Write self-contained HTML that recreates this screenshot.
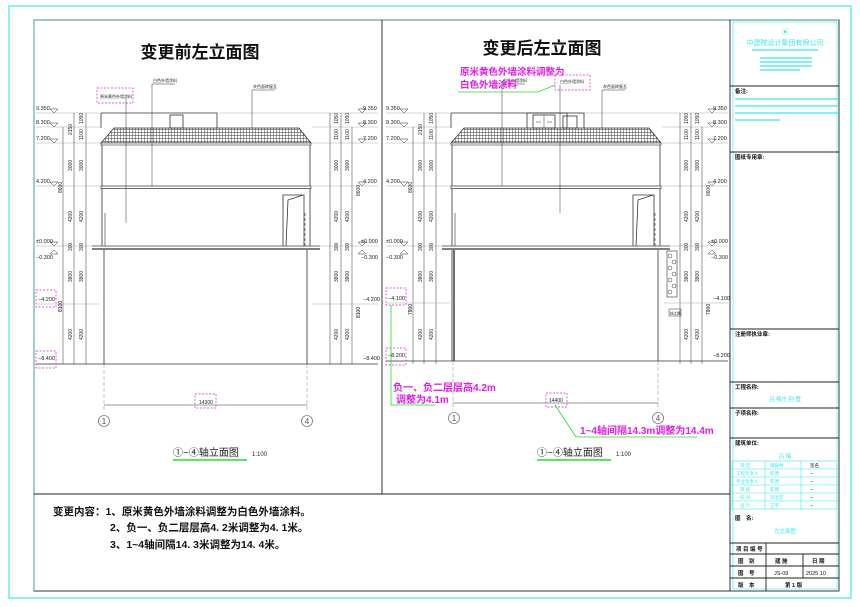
<!DOCTYPE html>
<html><head><meta charset="utf-8"><style>
html,body{margin:0;padding:0;background:#fff}
svg{display:block}
text{font-family:"Liberation Sans","Noto Sans CJK SC",sans-serif}
</style></head><body>
<svg width="860" height="607" viewBox="0 0 860 607" xmlns="http://www.w3.org/2000/svg">
<defs>
<pattern id="tile" width="3" height="3" patternUnits="userSpaceOnUse">
<rect width="3" height="3" fill="#fff"/><path d="M0 0H3M0 0V3" stroke="#333" stroke-width="0.9"/>
</pattern>
<g id="upper">
 <path d="M101 113H217V128" fill="none" stroke="#333" stroke-width="0.8"/>
 <path d="M101 113V128" stroke="#333" stroke-width="0.8"/>
 <path d="M101 143L114 128H299L311 143Z" fill="url(#tile)" stroke="#333" stroke-width="0.8"/>
 <rect x="101" y="143" width="210" height="2" fill="#fff" stroke="#333" stroke-width="0.6"/>
 <path d="M102 145V186M310 145V186" stroke="#333" stroke-width="0.8"/>
 <rect x="101" y="186" width="210" height="2.5" fill="#fff" stroke="#333" stroke-width="0.7"/>
 <path d="M102 189V246M310 189V246" stroke="#333" stroke-width="0.8"/>
 <path d="M283 246V195H304V246M286 246L288 200L303 195" fill="none" stroke="#333" stroke-width="0.8"/>
 <path d="M305 213V246" stroke="#333" stroke-width="0.6" stroke-dasharray="3 2"/>
 <path d="M105 213V246" stroke="#333" stroke-width="0.6"/>
 <path d="M92 246H320" stroke="#333" stroke-width="1"/>
 <path d="M92 249H320" stroke="#333" stroke-width="1.2"/>
 <g stroke="#aaa" stroke-width="0.5">
 <path d="M36 113H100M220 113H378M36 127H100M312 127H378M36 143H100M312 143H378M36 186H100M312 186H378M36 246H378"/>
 </g>
 <g stroke="#555" stroke-width="0.6">
 <path d="M63 127V364M74 113V364M86 113V364M330 113V364M341 113V364M352 127V364"/>
 </g>
 <g font-size="5" fill="#222">
 <text transform="translate(72,135) rotate(-90)">2150</text>
 <text transform="translate(83,124) rotate(-90)">1050</text>
 <text transform="translate(83,140) rotate(-90)">1100</text>
 <text transform="translate(72,171) rotate(-90)">3000</text>
 <text transform="translate(83,171) rotate(-90)">3000</text>
 <text transform="translate(62,193) rotate(-90)">8600</text>
 <text transform="translate(72,222) rotate(-90)">4200</text>
 <text transform="translate(83,222) rotate(-90)">4200</text>
 <text transform="translate(72,251) rotate(-90)">300</text>
 <text transform="translate(83,251) rotate(-90)">300</text>
 <text transform="translate(72,282) rotate(-90)">3800</text>
 <text transform="translate(83,282) rotate(-90)">3800</text>
 <text transform="translate(72,340) rotate(-90)">4200</text>
 <text transform="translate(83,340) rotate(-90)">4200</text>
 <text transform="translate(338,124) rotate(-90)">1050</text>
 <text transform="translate(349,124) rotate(-90)">1050</text>
 <text transform="translate(338,140) rotate(-90)">1100</text>
 <text transform="translate(349,140) rotate(-90)">1100</text>
 <text transform="translate(338,171) rotate(-90)">3000</text>
 <text transform="translate(349,171) rotate(-90)">3000</text>
 <text transform="translate(360,196) rotate(-90)">8600</text>
 <text transform="translate(338,222) rotate(-90)">4200</text>
 <text transform="translate(349,222) rotate(-90)">4200</text>
 <text transform="translate(338,251) rotate(-90)">300</text>
 <text transform="translate(349,251) rotate(-90)">300</text>
 <text transform="translate(338,282) rotate(-90)">3800</text>
 <text transform="translate(349,282) rotate(-90)">3800</text>
 <text transform="translate(338,340) rotate(-90)">4200</text>
 <text transform="translate(349,340) rotate(-90)">4200</text>
 </g>
 <g font-size="5.5" fill="#222">
 <text x="36" y="110">9.350</text><text x="36" y="124">8.300</text><text x="36" y="140">7.200</text>
 <text x="36" y="183">4.200</text><text x="36" y="243">±0.000</text><text x="36" y="259">−0.300</text>
 <text x="363" y="110">9.350</text><text x="363" y="124">8.300</text><text x="363" y="140">7.200</text>
 <text x="363" y="183">4.200</text><text x="361" y="243">±0.000</text><text x="361" y="259">−0.300</text>
 </g>
 <g fill="none" stroke="#333" stroke-width="0.5">
 <path d="M50 109L54 113L58 109ZM50 123L54 127L58 123ZM50 139L54 143L58 139ZM50 182L54 186L58 182ZM50 242L54 246L58 242ZM50 254L54 250L58 254Z"/>
 <path d="M358 109L362 113L366 109ZM358 123L362 127L366 123ZM358 139L362 143L366 139ZM358 182L362 186L366 182ZM358 242L362 246L366 242ZM358 254L362 250L366 254Z"/>
 </g>
 <path d="M152 84V186M152 84H175M252 90V128M252 90H275" stroke="#333" stroke-width="0.5" fill="none"/>
 <text x="153" y="82" font-size="4" fill="#222">白色外墙涂料</text>
 <text x="253" y="88" font-size="4" fill="#222">灰色面砖屋瓦</text>
</g>
</defs>
<rect width="860" height="607" fill="#fff"/>
<rect x="9" y="6" width="842" height="592" fill="none" stroke="#3ee8e8" stroke-width="1.2"/>
<rect x="34" y="20" width="805" height="571" fill="none" stroke="#222" stroke-width="0.9"/>
<path d="M34 20H839M34 20V591" stroke="#3ee8e8" stroke-width="0.6"/>
<path d="M382 20V494M730 20V591M34 494H730" stroke="#222" stroke-width="0.9"/>

<text x="200" y="58" font-size="17" font-weight="bold" text-anchor="middle" fill="#111">变更前左立面图</text>
<use href="#upper"/>
<rect x="170" y="115" width="13" height="13" fill="none" stroke="#333" stroke-width="0.8"/>
<rect x="97" y="88" width="36" height="15" fill="none" stroke="#e020e0" stroke-width="0.7" stroke-dasharray="2 1.5"/>
<text x="100" y="98" font-size="4" fill="#222">原米黄色外墙涂料</text>
<path d="M126 98V223" stroke="#333" stroke-width="0.5"/>
<g stroke="#333" stroke-width="0.8" fill="none">
<path d="M104 250V364M307 250V364M36 364H378"/>
<path d="M104 364V412M307 364V412" stroke="#888" stroke-width="0.5" stroke-dasharray="4 2"/>
<path d="M104 405H307" stroke-width="0.6"/>
</g>
<path d="M36 304H100M312 304H378" stroke="#aaa" stroke-width="0.5"/>
<g font-size="5.5" fill="#222"><text x="38" y="301">−4.200</text><text x="38" y="360">−8.400</text><text x="363" y="301">−4.200</text><text x="363" y="360">−8.400</text></g>
<text transform="translate(62,312) rotate(-90)" font-size="5">8100</text>
<text transform="translate(360,318) rotate(-90)" font-size="5">8100</text>
<rect x="36" y="290" width="20" height="17" fill="none" stroke="#e020e0" stroke-width="0.7" stroke-dasharray="2 1.5"/>
<rect x="36" y="351" width="20" height="17" fill="none" stroke="#e020e0" stroke-width="0.7" stroke-dasharray="2 1.5"/>
<rect x="195" y="394" width="21" height="14" fill="none" stroke="#e020e0" stroke-width="0.7" stroke-dasharray="2 1.5"/>
<text x="199" y="404" font-size="5" fill="#222">14300</text>
<circle cx="104" cy="421" r="5.5" fill="none" stroke="#555" stroke-width="0.6"/><text x="104" y="424" font-size="8" text-anchor="middle" fill="#555">1</text>
<circle cx="307" cy="421" r="5.5" fill="none" stroke="#555" stroke-width="0.6"/><text x="307" y="424" font-size="8" text-anchor="middle" fill="#555">4</text>
<text x="173" y="456" font-size="10" fill="#222">①~④轴立面图</text><text x="252" y="456" font-size="6" fill="#222">1:100</text>
<path d="M173 460H247" stroke="#20e020" stroke-width="1.5"/>

<text x="542" y="54" font-size="17" font-weight="bold" text-anchor="middle" fill="#111">变更后左立面图</text>
<use href="#upper" transform="translate(350,0)"/>
<path d="M527 113H584V128M527 113V128" fill="none" stroke="#333" stroke-width="0.8"/>
<rect x="533" y="115" width="22" height="13" fill="none" stroke="#333" stroke-width="0.8"/>
<path d="M544 115V128M536 122H541M547 122H552" stroke="#333" stroke-width="0.5"/>
<rect x="563" y="116" width="14" height="12" fill="none" stroke="#333" stroke-width="0.8"/>
<rect x="555" y="75" width="35" height="15" fill="none" stroke="#e020e0" stroke-width="0.7" stroke-dasharray="2 1.5"/>
<text x="560" y="83" font-size="4" fill="#222">白色外墙涂料</text>
<path d="M560 85V213" stroke="#333" stroke-width="0.5"/>
<text x="460" y="75" font-size="9.5" font-weight="bold" fill="#e020e0">原米黄色外墙涂料调整为</text>
<text x="460" y="88" font-size="9.5" font-weight="bold" fill="#e020e0">白色外墙涂料</text>
<path d="M458 92H538L555 85" stroke="#20e020" stroke-width="0.8" fill="none"/>
<g stroke="#333" stroke-width="0.8" fill="none">
<path d="M452 250V361M658 250V361M386 361H728"/>
<path d="M454 250V361" stroke-width="1.4"/>
<path d="M453 361V410M658 361V410" stroke="#888" stroke-width="0.5" stroke-dasharray="4 2"/>
<path d="M453 403H658" stroke-width="0.6"/>
</g>
<path d="M386 303H450M664 303H728" stroke="#aaa" stroke-width="0.5"/>
<rect x="667" y="251" width="10" height="46" fill="#fff" stroke="#333" stroke-width="0.6"/>
<g fill="none" stroke="#444" stroke-width="0.5"><circle cx="670" cy="256" r="2"/><circle cx="674" cy="262" r="2"/><circle cx="670" cy="268" r="2"/><circle cx="674" cy="274" r="2"/><circle cx="670" cy="280" r="2"/><circle cx="674" cy="286" r="2"/><circle cx="670" cy="292" r="2"/></g>
<rect x="669" y="309" width="12" height="7" fill="none" stroke="#333" stroke-width="0.5"/><text x="670" y="314.5" font-size="3.5">挡土墙</text>
<g font-size="5.5" fill="#222"><text x="388" y="300">−4.100</text><text x="388" y="357">−8.200</text><text x="713" y="300">−4.100</text><text x="713" y="357">−8.200</text></g>
<text transform="translate(412,315) rotate(-90)" font-size="5">7900</text>
<text transform="translate(710,315) rotate(-90)" font-size="5">7900</text>
<rect x="386" y="288" width="20" height="17" fill="none" stroke="#e020e0" stroke-width="0.7" stroke-dasharray="2 1.5"/>
<rect x="386" y="348" width="20" height="17" fill="none" stroke="#e020e0" stroke-width="0.7" stroke-dasharray="2 1.5"/>
<path d="M391 305V405H435" stroke="#20e020" stroke-width="0.8" fill="none"/>
<text x="393" y="391" font-size="10" font-weight="bold" fill="#e020e0">负一、负二层层高4.2m</text>
<text x="396" y="403" font-size="10" font-weight="bold" fill="#e020e0">调整为4.1m</text>
<rect x="546" y="393" width="21" height="14" fill="none" stroke="#e020e0" stroke-width="0.7" stroke-dasharray="2 1.5"/>
<text x="549" y="402" font-size="5" fill="#222">14400</text>
<path d="M555 405L576 437H697" stroke="#20e020" stroke-width="0.8" fill="none"/>
<text x="580" y="434" font-size="10" font-weight="bold" fill="#e020e0">1~4轴间隔14.3m调整为14.4m</text>
<circle cx="454" cy="418" r="5.5" fill="none" stroke="#555" stroke-width="0.6"/><text x="454" y="421" font-size="8" text-anchor="middle" fill="#555">1</text>
<circle cx="658" cy="418" r="5.5" fill="none" stroke="#555" stroke-width="0.6"/><text x="658" y="421" font-size="8" text-anchor="middle" fill="#555">4</text>
<text x="537" y="456" font-size="10" fill="#222">①~④轴立面图</text><text x="616" y="456" font-size="6" fill="#222">1:100</text>
<path d="M537 460H611" stroke="#20e020" stroke-width="1.5"/>

<g font-size="10.5" fill="#111" font-weight="bold">
<text x="53" y="515">变更内容：1、原米黄色外墙涂料调整为白色外墙涂料。</text>
<text x="110" y="531">2、负一、负二层层高4. 2米调整为4. 1米。</text>
<text x="110" y="548">3、1~4轴间隔14. 3米调整为14. 4米。</text>
</g>

<rect x="733" y="22" width="104" height="567" fill="none" stroke="#3ee8e8" stroke-width="0.6"/>
<g stroke="#222" stroke-width="0.9"><path d="M730 86H839M730 152H839M730 329H839M730 382H839M730 408H839M730 438H839M730 543H839M730 554H839M730 566H839M730 578H839M766 543V591M803 554V578"/></g>
<text x="785" y="34" font-size="7" fill="#3ee8e8" text-anchor="middle">▣</text>
<text x="785" y="45" font-size="7" fill="#3ee8e8" text-anchor="middle">中建院设计集团有限公司</text>
<g stroke="#3ee8e8" stroke-width="1.2"><path d="M752 50H818M760 58H812M760 62H812M760 66H812M760 70H800"/></g>
<g font-size="5.5" font-weight="bold" fill="#111">
<text x="735" y="93">备注:</text><text x="735" y="159">图纸专用章:</text><text x="735" y="336">注册师执业章:</text>
<text x="735" y="389">工程名称:</text><text x="735" y="415">子项名称:</text><text x="735" y="445">建筑单位:</text>
<text x="735" y="520">图　名:</text>
<text x="736" y="551">项 目 编 号</text>
<text x="738" y="563">图　别</text><text x="775" y="563">建 施</text><text x="812" y="563">日 期</text>
<text x="738" y="575">图　号</text><text x="774" y="575" font-weight="normal">JS-09</text><text x="806" y="575" font-weight="normal">2025.10</text>
<text x="738" y="587">版　本</text><text x="785" y="587">第 1 版</text>
</g>
<g stroke="#3ee8e8" stroke-width="1.2"><path d="M735 99H838M735 106H838M735 113H838M735 120H780"/></g>
<text x="785" y="401" font-size="5.5" fill="#3ee8e8" text-anchor="middle">吕 梅庄 别 墅</text>
<text x="785" y="458" font-size="5.5" fill="#3ee8e8" text-anchor="middle">吕 梅</text>
<text x="785" y="533" font-size="5.5" fill="#3ee8e8" text-anchor="middle">左立面图</text>
<g stroke="#3ee8e8" stroke-width="0.6" fill="none">
<rect x="732" y="461" width="105" height="48"/>
<path d="M732 469H837M732 477H837M732 485H837M732 493H837M732 501H837M765 461V509M801 461V509"/>
</g>
<g font-size="4.5" fill="#3ee8e8">
<text x="740" y="467">审 定</text><text x="770" y="467">谭振林</text>
<text x="736" y="475">工程负责人</text><text x="770" y="475">陈博</text>
<text x="736" y="483">专业负责人</text><text x="770" y="483">陈博</text>
<text x="740" y="491">审 核</text><text x="770" y="491">陈博</text>
<text x="740" y="499">校 对</text><text x="770" y="499">刘治宏</text>
<text x="740" y="507">设 计</text><text x="770" y="507">王宇</text>
</g>
<g font-size="4.5" fill="#111"><text x="810" y="467">签名</text><text x="810" y="475">~</text><text x="810" y="483">~</text><text x="810" y="491">~</text><text x="810" y="499">~</text><text x="810" y="507">~</text></g>
</svg>
</body></html>
